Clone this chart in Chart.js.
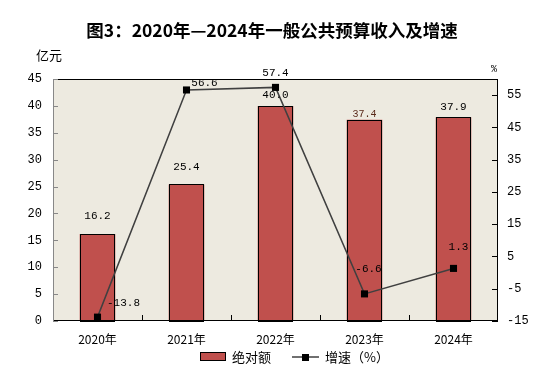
<!DOCTYPE html>
<html><head><meta charset="utf-8">
<script src="https://cdn.jsdelivr.net/npm/chart.js@4.4.0/dist/chart.umd.min.js"></script>
<style>html,body{margin:0;padding:0;background:#fff}#wrap{width:546px;height:373px}</style>
</head><body><div id="wrap"><canvas id="c" width="546" height="373"></canvas></div>
<script>
const categories = ['2020年','2021年','2022年','2023年','2024年'];
const amountValues = [16.2, 25.4, 40.0, 37.4, 37.9];
const growthValues = [-13.8, 56.6, 57.4, -6.6, 1.3];
const amountLabels = ['16.2','25.4','40.0','37.4','37.9'];
const growthLabels = ['-13.8','56.6','57.4','-6.6','1.3'];
const leftTicks = [0,5,10,15,20,25,30,35,40,45];
const rightTicks = [-15,-5,5,15,25,35,45,55];

const NUMF = '"Liberation Mono","DejaVu Sans Mono","Noto Sans CJK SC",monospace';
const CJKF = '"Noto Sans CJK SC","Liberation Mono",sans-serif';
const barLabelOff = [[0,-18],[0,-17],[0,-11],[0,-6],[0,-10]];
const lineLabelOff = [[26,-14],[18,-7],[0,-14],[4,-25],[5,-21]];

const deco = {
  id:'deco',
  beforeDraw(chart){
    const {ctx, chartArea:a} = chart;
    ctx.save();
    ctx.fillStyle = '#EDEAE0';
    ctx.fillRect(a.left, a.top, a.right-a.left, a.bottom-a.top);
    ctx.restore();
  },
  afterDatasetsDraw(chart){
    const {ctx, chartArea:a, scales} = chart;
    ctx.save();
    ctx.lineWidth = 1;
    ctx.strokeStyle = '#000';
    ctx.beginPath();
    ctx.moveTo(a.left, a.top+0.5); ctx.lineTo(a.right, a.top+0.5);
    ctx.moveTo(a.right-0.5, a.top); ctx.lineTo(a.right-0.5, a.bottom);
    ctx.moveTo(a.left, a.bottom-0.5); ctx.lineTo(a.right, a.bottom-0.5);
    ctx.stroke();
    ctx.strokeStyle = '#888';
    ctx.beginPath();
    ctx.moveTo(a.left+0.5, a.top); ctx.lineTo(a.left+0.5, a.bottom);
    leftTicks.forEach(v=>{const y=Math.round(scales.y.getPixelForValue(v))+0.5; ctx.moveTo(a.left, y); ctx.lineTo(a.left+5, y);});
    ctx.stroke();
    ctx.strokeStyle = '#000';
    ctx.beginPath();
    rightTicks.forEach(v=>{const y=Math.round(scales.y1.getPixelForValue(v))+0.5; ctx.moveTo(a.right-6, y); ctx.lineTo(a.right, y);});
    const w = (a.right-a.left)/categories.length;
    for(let i=1;i<categories.length;i++){const x=Math.round(a.left+i*w)+0.5; ctx.moveTo(x,a.bottom); ctx.lineTo(x,a.bottom-6);}
    ctx.stroke();
    const bm = chart.getDatasetMeta(1).data;
    ctx.textAlign = 'center'; ctx.textBaseline = 'middle';
    bm.forEach((el,i)=>{
      ctx.font = (i===3 ? '10px ' : '11px ') + NUMF;
      ctx.fillStyle = i===3 ? '#5a2a1a' : '#000';
      ctx.fillText(amountLabels[i], el.x+barLabelOff[i][0], el.y+barLabelOff[i][1]);
    });
    ctx.restore();
  },
  afterDraw(chart){
    const {ctx} = chart;
    ctx.save();
    const lm = chart.getDatasetMeta(0).data;
    ctx.fillStyle = '#000';
    ctx.font = '11px ' + NUMF;
    ctx.textAlign = 'center'; ctx.textBaseline = 'middle';
    lm.forEach((el,i)=>{
      ctx.fillText(growthLabels[i], el.x+lineLabelOff[i][0], el.y+lineLabelOff[i][1]);
    });
    ctx.font = 'bold 17.5px ' + CJKF;
    ctx.textAlign = 'center';
    ctx.fillText('图3：2020年—2024年一般公共预算收入及增速', 272, 30);
    ctx.font = '13px ' + CJKF;
    ctx.textAlign = 'left';
    ctx.fillText('亿元', 36, 55);
    ctx.font = '10px ' + NUMF;
    ctx.fillText('%', 491, 69);
    ctx.fillStyle = '#C0504D';
    ctx.fillRect(200, 352, 26, 9);
    ctx.strokeStyle = '#000'; ctx.lineWidth = 1;
    ctx.strokeRect(200.5, 352.5, 25, 8);
    ctx.fillStyle = '#000';
    ctx.font = '13px ' + CJKF;
    ctx.fillText('绝对额', 232, 357);
    ctx.strokeStyle = '#404040'; ctx.lineWidth = 1.5;
    ctx.beginPath(); ctx.moveTo(292, 357); ctx.lineTo(319, 357); ctx.stroke();
    ctx.fillRect(302, 354, 7, 7);
    ctx.fillText('增速（%）', 325, 357);
    ctx.restore();
  }
};

const barOutline = {
  id:'barOutline',
  afterDatasetDraw(chart, args){
    if (args.index !== 1) return;
    const {ctx} = chart;
    ctx.save();
    ctx.strokeStyle = '#000'; ctx.lineWidth = 1;
    args.meta.data.forEach(el=>{
      const l = Math.round(el.x - el.width/2), r = Math.round(el.x + el.width/2);
      const t = Math.round(el.y), b = Math.round(el.base);
      ctx.strokeRect(l+0.5, t+0.5, r-l-1, b-t);
    });
    ctx.restore();
  }
};

new Chart(document.getElementById('c'), {
  data: {
    labels: categories,
    datasets: [
      {type:'line', label:'增速（%）', data:growthValues, yAxisID:'y1', order:0,
       borderColor:'#404040', borderWidth:1.5, pointStyle:'rect', pointRadius:5,
       pointBackgroundColor:'#000', pointBorderColor:'#000', pointBorderWidth:0, tension:0},
      {type:'bar', label:'绝对额', data:amountValues, yAxisID:'y', order:1,
       backgroundColor:'#C0504D', borderWidth:0,
       barPercentage:0.4, categoryPercentage:1}
    ]
  },
  options: {
    responsive:false, animation:false, events:[],
    layout:{padding:{top:79, left:0, right:0, bottom:0}},
    plugins:{legend:{display:false}, tooltip:{enabled:false}, title:{display:false}},
    scales:{
      x:{offset:true, grid:{display:false, drawTicks:false}, border:{display:false},
         ticks:{color:'#000', font:{family:CJKF, size:12}, padding:11, maxRotation:0},
         afterFit(s){s.height = 52;}},
      y:{position:'left', min:0, max:45, grid:{display:false, drawTicks:false}, border:{display:false},
         afterBuildTicks(s){s.ticks = leftTicks.map(v=>({value:v}));},
         ticks:{color:'#000', font:{family:NUMF, size:12}, padding:11},
         afterFit(s){s.width = 53;}},
      y1:{position:'right', min:-15, max:60, grid:{display:false, drawTicks:false}, border:{display:false},
         afterBuildTicks(s){s.ticks = rightTicks.map(v=>({value:v}));},
         ticks:{color:'#000', font:{family:NUMF, size:12}, padding:9},
         afterFit(s){s.width = 48;}}
    }
  },
  plugins:[deco, barOutline]
});
</script></body></html>
